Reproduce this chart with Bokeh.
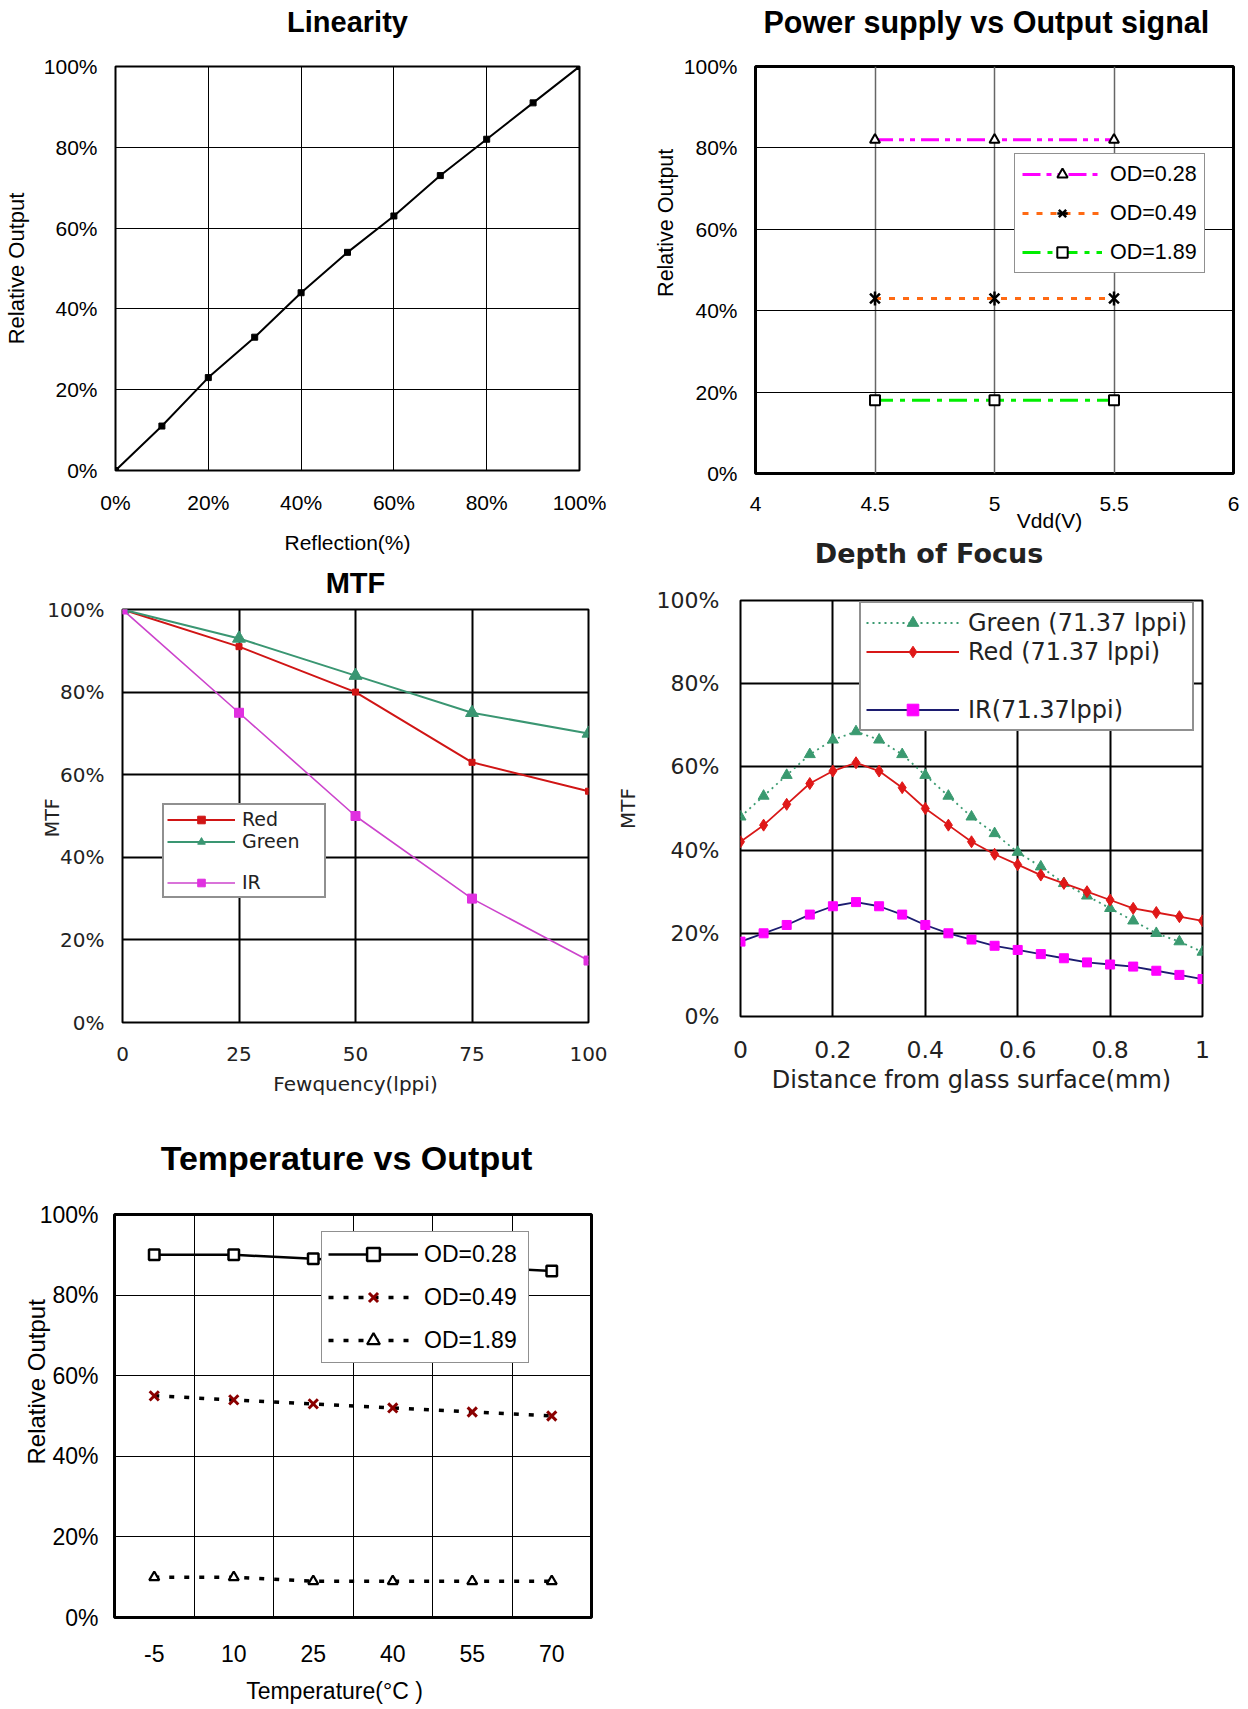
import math
from bokeh.plotting import figure
from bokeh.models import Legend, LegendItem, FixedTicker, Range1d, LinearAxis
from bokeh.layouts import row, column
from bokeh.embed import file_html
from bokeh.resources import INLINE
from bokeh.core.properties import value

# ---------------- data ----------------
pct_ticks = [0, 20, 40, 60, 80, 100]
pct_labels = ["0%", "20%", "40%", "60%", "80%", "100%"]

lin_reflection = [0, 10, 20, 30, 40, 50, 60, 70, 80, 90, 100]
lin_output = [0, 11, 23, 33, 44, 54, 63, 73, 82, 91, 100]

vdd = [4.5, 5.0, 5.5]
pow_od028 = [82, 82, 82]
pow_od049 = [43, 43, 43]
pow_od189 = [18, 18, 18]
vdd_ticks = [4.0, 4.5, 5.0, 5.5, 6.0]
vdd_labels = ["4", "4.5", "5", "5.5", "6"]

mtf_freq = [0, 25, 50, 75, 100]
mtf_red = [100, 91, 80, 63, 56]
mtf_green = [100, 93, 84, 75, 70]
mtf_ir = [100, 75, 50, 30, 15]
mtf_ticks = [0, 25, 50, 75, 100]

dof_dist = [0.0, 0.05, 0.1, 0.15, 0.2, 0.25, 0.3, 0.35, 0.4, 0.45, 0.5,
            0.55, 0.6, 0.65, 0.7, 0.75, 0.8, 0.85, 0.9, 0.95, 1.0]
dof_green = [48, 53, 58, 63, 66.5, 68.5, 66.5, 63, 58, 53, 48,
             44, 39.5, 36, 32, 29, 26, 23, 20, 18, 15.5]
dof_red = [42, 46, 51, 56, 59, 61, 59, 55, 50, 46, 42,
           39, 36.5, 34, 32, 30, 28, 26, 25, 24, 23]
dof_ir = [18, 20, 22, 24.5, 26.5, 27.5, 26.5, 24.5, 22, 20, 18.5,
          17, 16, 15, 14, 13, 12.5, 12, 11, 10, 9]
dof_ticks = [0.0, 0.2, 0.4, 0.6, 0.8, 1.0]
dof_labels = ["0", "0.2", "0.4", "0.6", "0.8", "1"]

temp_cats = ["-5", "10", "25", "40", "55", "70"]
temp_od028 = [90, 90, 89, 88, 87, 86]
temp_od049 = [55, 54, 53, 52, 51, 50]
temp_od189 = [10, 10, 9, 9, 9, 9]

ARIAL = "Liberation Sans"
SANS = "DejaVu Sans"


def base_fig(w, h, xr, yr, borders, outline_w=2, grid_w=1, grid_color="black"):
    l, r, t, b = borders
    p = figure(width=w, height=h, x_range=Range1d(*xr), y_range=Range1d(*yr),
               output_backend="svg", toolbar_location=None,
               min_border_left=l, min_border_right=r,
               min_border_top=t, min_border_bottom=b)
    p.outline_line_color = "black"
    p.outline_line_width = outline_w
    p.outline_line_alpha = 1
    p.background_fill_color = "white"
    p.border_fill_color = "white"
    for ax in p.axis:
        ax.axis_line_color = None
        ax.major_tick_out = 0
        ax.major_tick_in = 0
        ax.minor_tick_out = 0
        ax.minor_tick_in = 0
        ax.major_label_text_color = "black"
        ax.axis_label_text_font_style = "normal"
        ax.axis_label_text_color = "black"
    p.grid.grid_line_color = grid_color
    p.grid.grid_line_width = grid_w
    p.grid.grid_line_alpha = 1
    return p


def tick_style(p, font, size, xstand, ystand, color="black"):
    for ax in (p.xaxis[0], p.yaxis[0]):
        ax.major_label_text_font = font
        ax.major_label_text_font_size = f"{size}px"
        ax.major_label_text_color = color
    p.xaxis[0].major_label_standoff = xstand
    p.yaxis[0].major_label_standoff = ystand


def text_axis(p, side, pos, text, font, size, standoff, bold=False,
              color="black", angle=None):
    """An extra, tick-less axis whose single label carries a text (title / axis name)."""
    ax = LinearAxis(ticker=FixedTicker(ticks=[pos]), major_label_overrides={pos: text})
    ax.axis_line_color = None
    ax.major_tick_out = 0
    ax.major_tick_in = 0
    ax.minor_tick_out = 0
    ax.minor_tick_in = 0
    ax.major_label_text_font = font
    ax.major_label_text_font_size = f"{size}px"
    ax.major_label_text_font_style = "bold" if bold else "normal"
    ax.major_label_text_color = color
    try:
        ax.major_label_standoff = standoff
    except ValueError:
        ax.major_label_standoff = 0
    if angle is not None:
        ax.major_label_orientation = angle
    p.add_layout(ax, side)
    return ax


def style_legend(leg, font, size, padding, spacing, gw, gh, lw, ls, border_w=1.5,
                 color="black"):
    leg.label_text_font = font
    leg.label_text_font_size = f"{size}px"
    leg.label_text_color = color
    leg.padding = padding
    leg.spacing = spacing
    leg.glyph_width = gw
    leg.glyph_height = gh
    leg.label_height = gh
    leg.label_width = lw
    leg.label_standoff = ls
    leg.border_line_color = "#222222"
    leg.border_line_width = border_w
    leg.background_fill_color = "white"
    leg.background_fill_alpha = 1
    leg.margin = 0


# ---------------- Linearity ----------------
p1 = base_fig(612, 556, (0, 100), (0, 100), (114, 33, 66, 86), outline_w=2, grid_w=1)
p1.xaxis.ticker = FixedTicker(ticks=pct_ticks)
p1.yaxis.ticker = FixedTicker(ticks=pct_ticks)
p1.xaxis.major_label_overrides = dict(zip(pct_ticks, pct_labels))
p1.yaxis.major_label_overrides = dict(zip(pct_ticks, pct_labels))
tick_style(p1, ARIAL, 21, 20, 18)
p1.yaxis.axis_label = "Relative Output"
p1.yaxis.axis_label_text_font = ARIAL
p1.yaxis.axis_label_text_font_size = "22px"
p1.yaxis.axis_label_standoff = 12
p1.line(lin_reflection, lin_output, line_color="black", line_width=2)
p1.scatter(lin_reflection, lin_output, marker="square", size=6, color="black")
text_axis(p1, "above", 50, "Linearity", ARIAL, 29, 29, bold=True)
text_axis(p1, "below", 50, "Reflection(%)", ARIAL, 21, 14)

# ---------------- Power supply ----------------
p2 = base_fig(636, 534, (4, 6), (0, 100), (143, 15, 66, 59), outline_w=3, grid_w=1)
p2.xaxis.ticker = FixedTicker(ticks=vdd_ticks)
p2.yaxis.ticker = FixedTicker(ticks=pct_ticks)
p2.xaxis.major_label_overrides = dict(zip(vdd_ticks, vdd_labels))
p2.yaxis.major_label_overrides = dict(zip(pct_ticks, pct_labels))
p2.xgrid.grid_line_color = "#666666"
p2.xgrid.grid_line_width = 1.5
tick_style(p2, ARIAL, 21, 23, 18)
a1 = p2.line(vdd, pow_od028, line_color="#FF00FF", line_width=3, line_dash="18 6 5 6 5 6")
a2 = p2.scatter(vdd, pow_od028, marker="triangle", size=10, fill_color="white",
                line_color="black", line_width=2)
b1 = p2.line(vdd, pow_od049, line_color="#FF6A13", line_width=3, line_dash="6 8")
b2 = p2.scatter(vdd, pow_od049, marker="x", size=14, line_color="black", line_width=2.5)
b3 = p2.scatter(vdd, pow_od049, marker="dash", angle=math.pi / 2, size=14,
                line_color="black", line_width=2.5)
c1 = p2.line(vdd, pow_od189, line_color="#00EE00", line_width=3, line_dash="18 7 5 7")
c2 = p2.scatter(vdd, pow_od189, marker="square", size=10, fill_color="white",
                line_color="black", line_width=2)
leg2 = Legend(items=[
    LegendItem(label=value("OD=0.28"), renderers=[a1, a2]),
    LegendItem(label=value("OD=0.49"), renderers=[b1, b2, b3]),
    LegendItem(label=value("OD=1.89"), renderers=[c1, c2]),
], location=(259, 200))
style_legend(leg2, ARIAL, 21.5, 7, 13, 80, 26, 87, 8, border_w=1.2)
p2.add_layout(leg2)
text_axis(p2, "above", 4.966, "Power supply vs Output signal", ARIAL, 30.5, 28, bold=True)
text_axis(p2, "below", 5.23, "Vdd(V)", ARIAL, 21, -5)
text_axis(p2, "left", 79.8, "Relative Output", ARIAL, 21.5, 14, angle=math.pi / 2)

# ---------------- MTF ----------------
p3 = base_fig(612, 559, (0, 100), (0, 100), (122, 24, 53, 93), outline_w=2, grid_w=2)
p3.xaxis.ticker = FixedTicker(ticks=mtf_ticks)
p3.yaxis.ticker = FixedTicker(ticks=pct_ticks)
p3.yaxis.major_label_overrides = dict(zip(pct_ticks, pct_labels))
tick_style(p3, SANS, 20, 24, 18, color="#222222")
p3.xaxis.axis_label = "Fewquency(lppi)"
p3.xaxis.axis_label_text_font = SANS
p3.xaxis.axis_label_text_font_size = "20px"
p3.xaxis.axis_label_text_color = "#222222"
p3.xaxis.axis_label_standoff = 8
r1 = p3.line(mtf_freq, mtf_red, line_color="#D01515", line_width=2)
r2 = p3.scatter(mtf_freq, mtf_red, marker="square", size=6, color="#D01515")
g1 = p3.line(mtf_freq, mtf_green, line_color="#3A9672", line_width=2)
g2 = p3.scatter(mtf_freq, mtf_green, marker="triangle", size=13, color="#3A9672")
i1 = p3.line(mtf_freq, mtf_ir, line_color="#CC44CC", line_width=1.6)
i2 = p3.scatter(mtf_freq, mtf_ir, marker="square", size=9, color="#E030E0")
blank3 = p3.line([], [], line_alpha=0)
leg3 = Legend(items=[
    LegendItem(label=value("Red"), renderers=[r1, r2]),
    LegendItem(label=value("Green"), renderers=[g1, g2]),
    LegendItem(label=value(""), renderers=[blank3]),
    LegendItem(label=value("IR"), renderers=[i1, i2]),
], location=(40, 124))
style_legend(leg3, SANS, 19, 3, 0, 68, 19, 79, 7, border_w=2, color="#222222")
p3.add_layout(leg3)
text_axis(p3, "above", 50, "MTF", ARIAL, 29, 11, bold=True)
text_axis(p3, "left", 54.3, "MTF", SANS, 19, -8, color="#222222", angle=math.pi / 2)

# ---------------- Depth of Focus ----------------
p4 = base_fig(636, 581, (0, 1), (0, 100), (128, 46, 66, 99), outline_w=2, grid_w=2)
p4.xaxis.ticker = FixedTicker(ticks=dof_ticks)
p4.yaxis.ticker = FixedTicker(ticks=pct_ticks)
p4.xaxis.major_label_overrides = dict(zip(dof_ticks, dof_labels))
p4.yaxis.major_label_overrides = dict(zip(pct_ticks, pct_labels))
tick_style(p4, SANS, 22, 24, 21, color="#222222")
p4.xaxis[0].major_label_text_font_size = "23.5px"
p4.xaxis.axis_label = "Distance from glass surface(mm)"
p4.xaxis.axis_label_text_font = SANS
p4.xaxis.axis_label_text_font_size = "24px"
p4.xaxis.axis_label_text_color = "#222222"
p4.xaxis.axis_label_standoff = 5
p4.yaxis.axis_label = "MTF"
p4.yaxis.axis_label_text_font = SANS
p4.yaxis.axis_label_text_font_size = "20px"
p4.yaxis.axis_label_text_color = "#222222"
p4.yaxis.axis_label_standoff = 14
dg1 = p4.line(dof_dist, dof_green, line_color="#3A9A70", line_width=1.8, line_dash="2 4")
dg2 = p4.scatter(dof_dist, dof_green, marker="triangle", size=11, color="#3A9A70")
dr1 = p4.line(dof_dist, dof_red, line_color="#D81818", line_width=1.8)
dr2 = p4.scatter(dof_dist, dof_red, marker="diamond", size=12, color="#E01818")
di1 = p4.line(dof_dist, dof_ir, line_color="#1C1C70", line_width=1.8)
di2 = p4.scatter(dof_dist, dof_ir, marker="square", size=9, color="#FF00FF")
blank4 = p4.line([], [], line_alpha=0)
leg4 = Legend(items=[
    LegendItem(label=value("Green (71.37 lppi)"), renderers=[dg1, dg2]),
    LegendItem(label=value("Red (71.37 lppi)"), renderers=[dr1, dr2]),
    LegendItem(label=value(""), renderers=[blank4]),
    LegendItem(label=value("IR(71.37lppi)"), renderers=[di1, di2]),
], location=(119, 285))
style_legend(leg4, SANS, 24, 5, 0, 93, 29, 216, 9, border_w=2, color="#222222")
p4.add_layout(leg4)
text_axis(p4, "above", 0.408, "Depth of Focus", SANS, 27, 32, bold=True, color="#222222")

# ---------------- Temperature ----------------
temp_x = list(range(len(temp_cats)))
p5 = base_fig(612, 591, (-0.5, len(temp_cats) - 0.5), (0, 100), (114, 21, 99, 88),
              outline_w=3, grid_w=1)
p5.xaxis.ticker = FixedTicker(ticks=temp_x)
p5.xaxis.major_label_overrides = dict(zip(temp_x, temp_cats))
p5.xgrid.ticker = FixedTicker(ticks=[i + 0.5 for i in temp_x[:-1]])
p5.yaxis.ticker = FixedTicker(ticks=pct_ticks)
p5.yaxis.major_label_overrides = dict(zip(pct_ticks, pct_labels))
tick_style(p5, ARIAL, 23, 27, 16)
t1 = p5.line(temp_x, temp_od028, line_color="black", line_width=2.5)
t1s = p5.scatter(temp_x, temp_od028, marker="square", size=10.5, fill_color="white",
                 line_color="black", line_width=2.5)
t2 = p5.line(temp_x, temp_od049, line_color="black", line_width=3.5, line_dash="5 10")
t2s = p5.scatter(temp_x, temp_od049, marker="x", size=13, line_color="#8B0000", line_width=3)
t3 = p5.line(temp_x, temp_od189, line_color="black", line_width=3.5, line_dash="5 10")
t3s = p5.scatter(temp_x, temp_od189, marker="triangle", size=10, fill_color="white",
                 line_color="black", line_width=2.2)
leg5 = Legend(items=[
    LegendItem(label=value("OD=0.28"), renderers=[t1, t1s]),
    LegendItem(label=value("OD=0.49"), renderers=[t2, t2s]),
    LegendItem(label=value("OD=1.89"), renderers=[t3, t3s]),
], location=(207, 254))
style_legend(leg5, ARIAL, 23, 6, 11, 90, 32, 98, 6, border_w=1.5)
p5.add_layout(leg5)
text_axis(p5, "above", 2.418, "Temperature vs Output", ARIAL, 34, 38, bold=True)
text_axis(p5, "below", 2.267, "Temperature(°C )", ARIAL, 23, 13)
text_axis(p5, "left", 79, "Relative Output", ARIAL, 24, 0, angle=math.pi / 2)

left_col = column(row(p1), row(p3), row(p5))
right_col = column(row(p2), row(p4))
layout = row(left_col, right_col)
open("out.html", "w").write(file_html(layout, INLINE))
